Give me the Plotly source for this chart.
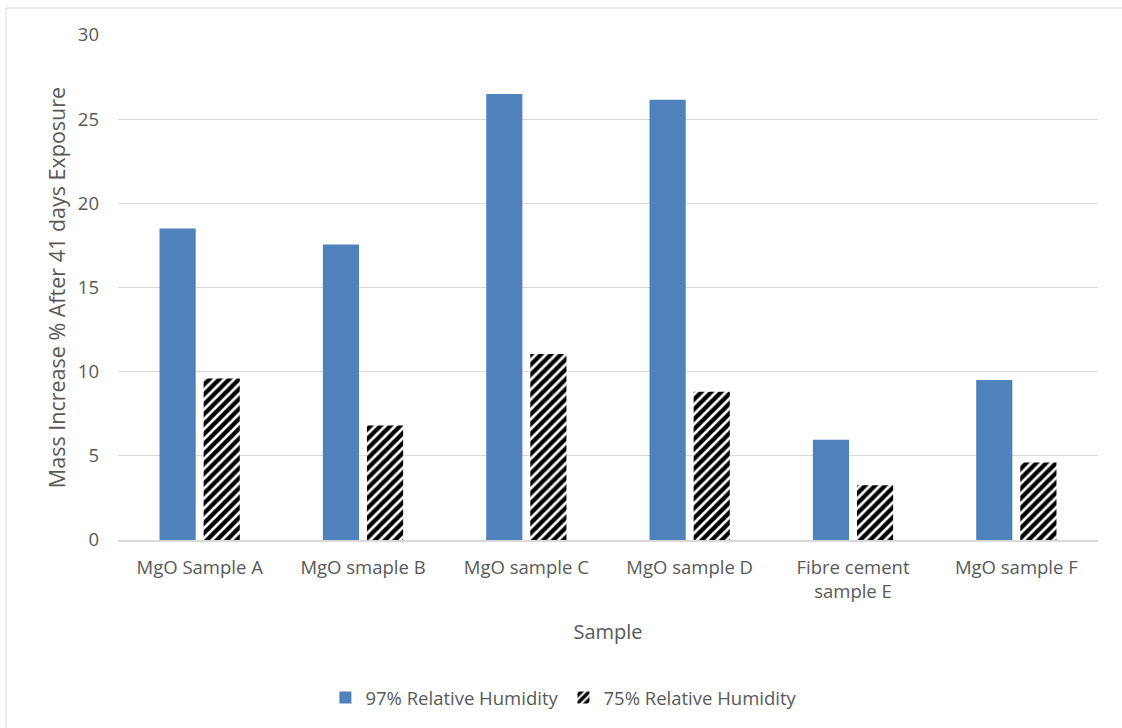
import plotly.graph_objects as go

categories = ["MgO Sample A", "MgO smaple B", "MgO sample C", "MgO sample D",
              "Fibre cement<br>sample E", "MgO sample F"]
rh97 = [18.5, 17.55, 26.5, 26.15, 5.95, 9.5]
rh75 = [9.6, 6.8, 11.05, 8.8, 3.25, 4.6]
yticks = [0, 5, 10, 15, 20, 25, 30]

font_family = "Open Sans, Liberation Sans, sans-serif"
txt = "#595959"

fig = go.Figure()
fig.add_trace(go.Bar(x=categories, y=rh97, name="97% Relative Humidity",
                     marker=dict(color="#4F81BD", line=dict(width=0))))
fig.add_trace(go.Bar(x=categories, y=rh75, name="75% Relative Humidity",
                     marker=dict(color="white", line=dict(width=0),
                                 pattern=dict(shape="/", fgcolor="#000000", bgcolor="#FFFFFF",
                                              fgopacity=1, fillmode="replace",
                                              size=7, solidity=0.62))))

fig.update_layout(
    width=1122, height=728,
    margin=dict(l=118, r=24, t=35, b=188, autoexpand=False),
    paper_bgcolor="white", plot_bgcolor="white",
    barmode="group", bargap=0.46, bargroupgap=0.18,
    font=dict(family=font_family, color=txt, size=18),
    showlegend=True,
    legend=dict(orientation="h", x=0.455, y=-0.275, xanchor="center", yanchor="top",
                font=dict(size=18.5, color=txt), itemwidth=30, traceorder="normal"),
    xaxis=dict(showgrid=False, showline=True, linecolor="#D9D9D9", linewidth=1.5,
               tickfont=dict(size=18.5, color=txt), ticks="", ticklabelstandoff=10,
               automargin=False,
               title=dict(text="Sample", font=dict(size=20, color=txt), standoff=23)),
    yaxis=dict(range=[0, 30], tickvals=yticks, showgrid=True, gridcolor="#D9D9D9",
               gridwidth=1, zeroline=False, showline=False, automargin=False,
               tickfont=dict(size=18.5, color=txt), ticklabelstandoff=18,
               title=dict(text="Mass Increase % After 41 days Exposure",
                          font=dict(size=21.5, color=txt), standoff=6)),
    shapes=[dict(type="rect", xref="paper", yref="paper",
                 x0=(6 - 118) / 980, x1=(1130 - 118) / 980,
                 y0=(540 - 740) / 505, y1=(540 - 8) / 505,
                 line=dict(color="#D9D9D9", width=1), fillcolor="rgba(0,0,0,0)",
                 layer="below")],
)

fig.write_html("out.html")
